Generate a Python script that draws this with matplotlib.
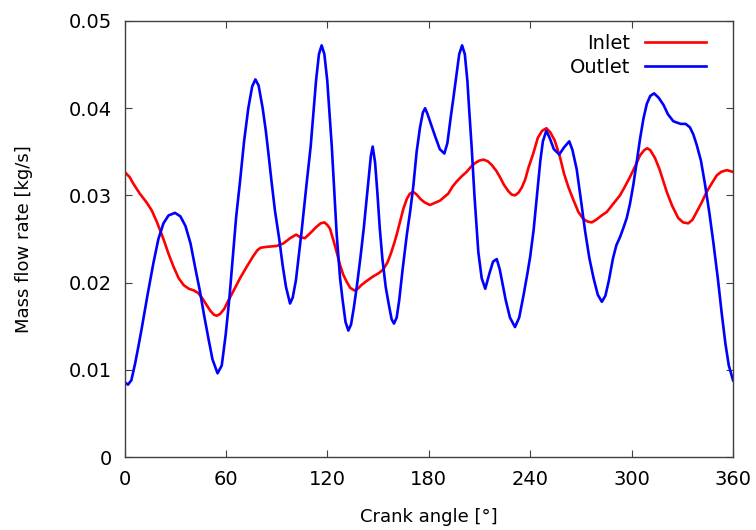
import numpy as np
import matplotlib
matplotlib.use("Agg")
import matplotlib.pyplot as plt

# crank angle [deg] and mass flow [kg/s]
outlet_angle = [0, 2, 4, 6.2, 8, 10, 13.5, 17, 20, 23, 26, 29.8, 33, 36, 39, 42, 44.6, 47, 49.5,
                52, 55, 57.5, 59.8, 62, 63.7, 66, 68.3, 70.7, 73.2, 75.5, 77.4, 79.3, 81.7, 83.5,
                85, 87, 89, 91.5, 93.5, 95.5, 97.9, 99.5, 101.4, 104.8, 107.5, 110.1, 113.3, 115,
                116.6, 118.2, 119.9, 122.6, 125.5, 127.5, 129, 130.7, 132.4, 134, 135.7, 137.5,
                139.5, 141.5, 143, 144.5, 145.7, 146.8, 148.2, 149.5, 151, 152.5, 154.5, 156.6,
                158, 159.4, 161, 162.5, 164.5, 167, 169, 170.8, 172.8, 174.8, 176.5, 177.8, 179.3,
                180.7, 183.7, 186.5, 189.2, 191, 193, 194.5, 196.5, 198, 199.7, 201.3, 202.8,
                204, 205.4, 207, 209.3, 211.3, 213.4, 215.8, 218, 220.2, 222, 223.5, 225.5, 228,
                231, 233.5, 236, 238.3, 240, 242, 244, 246, 247.5, 249.5, 251.5, 254, 257.2, 260,
                263.1, 265, 267.5, 270, 272.4, 275, 277.5, 280, 282.4, 284.5, 286.5, 289, 291,
                293.1, 295, 297.1, 299, 301, 303, 305, 307, 309, 311, 313.3, 316, 318.8, 321.5,
                324.7, 329, 332, 334.5, 336.5, 338.5, 341, 343.4, 346, 348.3, 351, 353.3, 355.5,
                357.5, 360]
outlet_flow = [0.0086, 0.0083, 0.0088, 0.0107, 0.0125, 0.0146, 0.0185, 0.0222, 0.0250, 0.0268,
               0.0277, 0.0280, 0.0276, 0.0265, 0.0245, 0.0215, 0.0190, 0.0163, 0.0137, 0.0112,
               0.0096, 0.0105, 0.0140, 0.0182, 0.0222, 0.0275, 0.0316, 0.0362, 0.0400, 0.0425,
               0.0433, 0.0426, 0.0400, 0.0375, 0.0350, 0.0315, 0.0282, 0.0250, 0.0220, 0.0195,
               0.0176, 0.0183, 0.0203, 0.0260, 0.0310, 0.0356, 0.0432, 0.0462, 0.0472, 0.0462,
               0.0432, 0.0356, 0.0255, 0.0205, 0.0180, 0.0155, 0.0145, 0.0152, 0.0172, 0.0197,
               0.0228, 0.0262, 0.0292, 0.0322, 0.0345, 0.0356, 0.0338, 0.0305, 0.0262, 0.0228,
               0.0195, 0.0172, 0.0158, 0.0153, 0.0160, 0.0180, 0.0215, 0.0255, 0.0282, 0.0310,
               0.0350, 0.0378, 0.0395, 0.0400, 0.0393, 0.0385, 0.0368, 0.0353, 0.0348, 0.0360,
               0.0390, 0.0411, 0.0440, 0.0462, 0.0472, 0.0462, 0.0432, 0.0395, 0.0354, 0.0300,
               0.0235, 0.0205, 0.0193, 0.0210, 0.0224, 0.0227, 0.0215, 0.0200, 0.0180, 0.0160,
               0.0149, 0.0160, 0.0185, 0.0210, 0.0230, 0.0260, 0.0300, 0.0340, 0.0362, 0.0374,
               0.0366, 0.0353, 0.0347, 0.0355, 0.0362, 0.0352, 0.0330, 0.0295, 0.0260, 0.0228,
               0.0205, 0.0186, 0.0178, 0.0185, 0.0202, 0.0228, 0.0243, 0.0252, 0.0262, 0.0274,
               0.0290, 0.0312, 0.0338, 0.0365, 0.0388, 0.0405, 0.0414, 0.0417, 0.0412, 0.0404,
               0.0393, 0.0385, 0.0382, 0.0382, 0.0378, 0.0370, 0.0358, 0.0340, 0.0313, 0.0280,
               0.0247, 0.0205, 0.0165, 0.0130, 0.0105, 0.0088]

inlet_angle = [0, 3, 5, 9, 13, 16, 19, 23, 26, 29, 32, 35, 38, 41, 43.6, 46, 48.6, 51, 53, 54.5,
               56.5, 59, 61, 64.3, 68.3, 72.2, 76, 78.5, 80.5, 84, 90, 94, 98, 101.5, 104, 106.7,
               110, 113, 116, 118.3, 120, 121.5, 123.5, 125.5, 127.5, 129.4, 131.4, 133.5, 136,
               138, 140, 143.3, 147, 150.5, 153, 155.5, 157.5, 159.5, 161, 163, 165, 167, 168.8,
               170.8, 172.8, 175, 177.5, 180.7, 183, 186.6, 189, 191.5, 194, 196.5, 199.5, 202.4,
               205, 207.3, 210, 212.5, 215, 217.2, 220, 222.1, 224.5, 227, 229, 231, 233, 235,
               237, 239, 241.8, 244.5, 247, 249.6, 252, 254.5, 257.6, 260, 262.5, 265.5, 268.5,
               271.4, 274, 276.4, 279, 282.3, 285.3, 289, 293.1, 296, 299, 302, 305, 307.5, 309.3,
               311, 313.8, 316.5, 318.5, 320.8, 324, 327.6, 330.5, 333.5, 336, 338.5, 341.5,
               344.4, 347.5, 350.4, 353, 356.3, 360]
inlet_flow = [0.0327, 0.0321, 0.0314, 0.0302, 0.0292, 0.0283, 0.0270, 0.0250, 0.0233, 0.0218,
              0.0205, 0.0197, 0.0193, 0.0191, 0.0188, 0.0182, 0.0174, 0.0167, 0.0163, 0.0162,
              0.0164, 0.0170, 0.0178, 0.0190, 0.0205, 0.0218, 0.0230, 0.0237, 0.0240, 0.0241,
              0.0242, 0.0245, 0.0251, 0.0255, 0.0252, 0.0251, 0.0257, 0.0263, 0.0268, 0.0269,
              0.0266, 0.0262, 0.0249, 0.0235, 0.0220, 0.0209, 0.0201, 0.0194, 0.0191, 0.0193,
              0.0197, 0.0202, 0.0207, 0.0211, 0.0215, 0.0223, 0.0233, 0.0245, 0.0255, 0.0270,
              0.0285, 0.0296, 0.0302, 0.0304, 0.0301, 0.0296, 0.0292, 0.0289, 0.0291, 0.0294,
              0.0298, 0.0302, 0.0310, 0.0316, 0.0322, 0.0327, 0.0333, 0.0337, 0.0340, 0.0341,
              0.0339, 0.0335, 0.0328, 0.0321, 0.0312, 0.0305, 0.0301, 0.0300, 0.0303, 0.0309,
              0.0318, 0.0332, 0.0348, 0.0366, 0.0374, 0.0377, 0.0372, 0.0363, 0.0344, 0.0325,
              0.0310, 0.0295, 0.0281, 0.0273, 0.0270, 0.0269, 0.0272, 0.0277, 0.0281, 0.0290,
              0.0300, 0.0310, 0.0321, 0.0333, 0.0346, 0.0352, 0.0354, 0.0352, 0.0343, 0.0330,
              0.0318, 0.0304, 0.0288, 0.0274, 0.0269, 0.0268, 0.0272, 0.0281, 0.0292, 0.0304,
              0.0314, 0.0323, 0.0327, 0.0329, 0.0327]

x_ticks = [0, 60, 120, 180, 240, 300, 360]
y_ticks = [0, 0.01, 0.02, 0.03, 0.04, 0.05]
y_ticklabels = ["0", "0.01", "0.02", "0.03", "0.04", "0.05"]

fig = plt.figure(figsize=(7.56, 5.3), dpi=100)
ax = fig.add_axes([0.1648, 0.1377, 0.8048, 0.8227])

ax.plot(inlet_angle, inlet_flow, color="#ff0000", lw=1.9, label="Inlet")
ax.plot(outlet_angle, outlet_flow, color="#0000ff", lw=1.9, label="Outlet")

ax.set_xlim(0, 360)
ax.set_ylim(0, 0.05)
ax.set_xticks(x_ticks)
ax.set_yticks(y_ticks)
ax.set_yticklabels(y_ticklabels)
ax.tick_params(direction="in", top=True, right=True, length=5, width=0.8,
               color="#404040", labelsize=14)
ax.tick_params(axis="x", pad=9)
ax.tick_params(axis="y", pad=9)
for s in ax.spines.values():
    s.set_color("#404040")
    s.set_linewidth(1.0)

ax.set_xlabel("Crank angle [°]", fontsize=13, labelpad=14)
ax.set_ylabel("Mass flow rate [kg/s]", fontsize=13, labelpad=26)

ax.legend(loc="upper right", bbox_to_anchor=(0.985, 1.01), frameon=False,
          markerfirst=False, fontsize=14, handlelength=3.15, labelspacing=0.25,
          handletextpad=0.75)

fig.savefig("out.png", dpi=100)
